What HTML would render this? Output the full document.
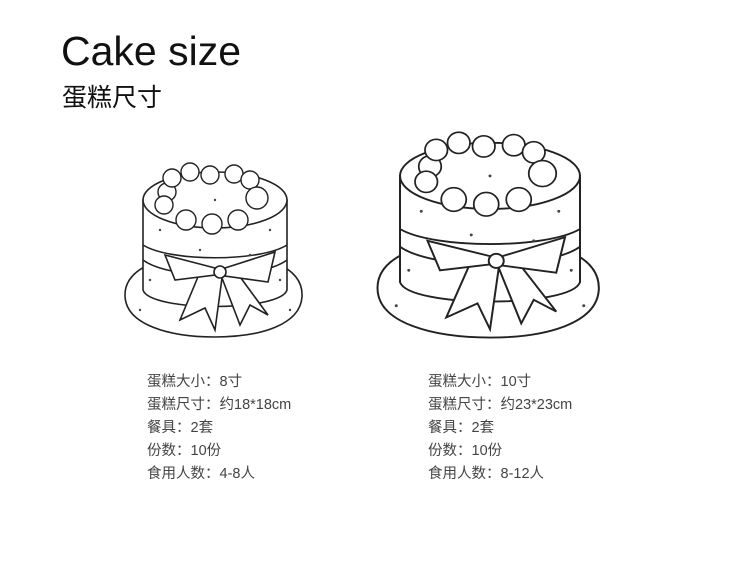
<!DOCTYPE html>
<html><head><meta charset="utf-8"><style>
body{margin:0;width:730px;height:566px;background:#fff;position:relative;overflow:hidden;font-family:"Liberation Sans","Noto Sans CJK SC",sans-serif}
.t1{position:absolute;left:61px;top:28px;font-size:41px;color:#111}
.t2{position:absolute;left:62px;top:78px;font-size:25px;color:#111}
.info{position:absolute;top:371px;font-size:14.5px;color:#444;line-height:23px}
svg{position:absolute;left:0;top:0}
</style></head><body>
<div class="t1">Cake size</div>
<div class="t2">蛋糕尺寸</div>
<svg width="730" height="566" viewBox="0 0 730 566">
<defs>
<g id="cake" fill="#fff" stroke="#222" stroke-width="1.6">
<path d="M125 295 C125 265 170 253 215 253 C260 253 304 265 302 297 C300 325 260 337 215 337 C170 337 125 325 125 295Z"/>
<path d="M143 200 L143 290 C150 312 280 312 287 290 L287 200Z"/>
<path d="M143 245 C170 262 260 262 287 245" fill="none"/>
<path d="M143 260 C170 280 260 280 287 260" fill="none"/>
<path d="M200 272 L180 320 L205 308 L215 330 L222 278 L240 325 L250 305 L268 315 L235 270Z" />
<path d="M215 268 L165 255 L175 280 L215 275Z M225 268 L275 252 L268 282 L225 276Z"/>
<circle cx="220" cy="272" r="6"/>
<ellipse cx="215" cy="200" rx="72" ry="28"/>
<g stroke-width="1.4">
<circle cx="167" cy="192" r="9"/><circle cx="172" cy="178" r="9"/><circle cx="190" cy="172" r="9"/>
<circle cx="210" cy="175" r="9"/><circle cx="234" cy="174" r="9"/><circle cx="250" cy="180" r="9"/>
<circle cx="257" cy="198" r="11"/><circle cx="238" cy="220" r="10"/><circle cx="212" cy="224" r="10"/>
<circle cx="186" cy="220" r="10"/><circle cx="164" cy="205" r="9"/>
</g>
<g stroke="none" fill="#444">
<circle cx="160" cy="230" r="1.2"/><circle cx="270" cy="230" r="1.2"/><circle cx="150" cy="280" r="1.2"/>
<circle cx="280" cy="280" r="1.2"/><circle cx="200" cy="250" r="1.2"/><circle cx="250" cy="255" r="1.2"/>
<circle cx="140" cy="310" r="1.2"/><circle cx="290" cy="310" r="1.2"/><circle cx="215" cy="200" r="1.2"/>
</g>
</g>
</defs>
<use href="#cake"/>
<use href="#cake" transform="translate(490,288) scale(1.25,1.18) translate(-215,-295)"/>
</svg>
<div class="info" style="left:147px">蛋糕大小：8寸<br>蛋糕尺寸：约18*18cm<br>餐具：2套<br>份数：10份<br>食用人数：4-8人</div>
<div class="info" style="left:428px">蛋糕大小：10寸<br>蛋糕尺寸：约23*23cm<br>餐具：2套<br>份数：10份<br>食用人数：8-12人</div>
</body></html>
